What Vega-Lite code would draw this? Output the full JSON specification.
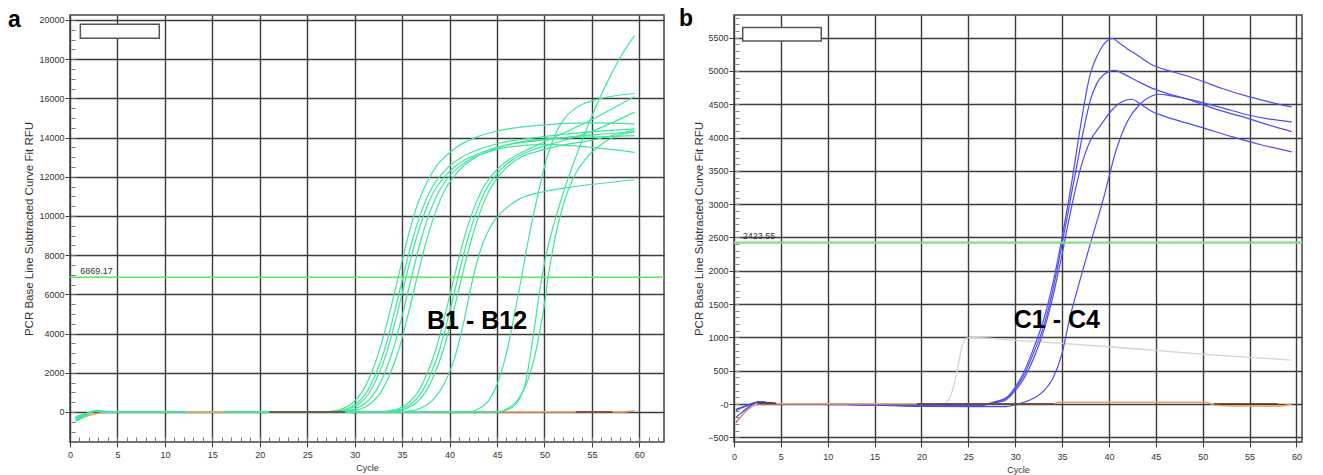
{
"$schema": "https://vega.github.io/schema/vega-lite/v6.json",
"background": "white",
"padding": {"left": 7, "top": 7, "right": 5, "bottom": 0},
"spacing": 12,
"config": {
  "font": "Liberation Sans",
  "view": {"stroke": "#454545", "strokeWidth": 1.5},
  "axis": {"gridColor": "#3c3c3c", "gridWidth": 1.4, "tickColor": "#3c3c3c", "labelColor": "#333333", "titleColor": "#333333", "labelFont": "Liberation Sans", "titleFont": "Liberation Sans", "titleFontWeight": "normal", "domain": false, "labelFlush": false, "labelOverlap": false}
},
"datasets": {
"a": [
{"s":"B1","g":"B","c":0.6,"v":-480},{"s":"B1","g":"B","c":1.5,"v":-240},{"s":"B1","g":"B","c":2.6,"v":40},{"s":"B1","g":"B","c":4,"v":15},{"s":"B1","g":"B","c":12,"v":10},{"s":"B1","g":"B","c":26.7,"v":0},{"s":"B1","g":"B","c":27.7,"v":40},{"s":"B1","g":"B","c":28.7,"v":160},{"s":"B1","g":"B","c":29.7,"v":430},{"s":"B1","g":"B","c":30.7,"v":960},{"s":"B1","g":"B","c":31.7,"v":1900},{"s":"B1","g":"B","c":32.7,"v":3300},{"s":"B1","g":"B","c":33.7,"v":5100},{"s":"B1","g":"B","c":34.7,"v":7100},{"s":"B1","g":"B","c":35.7,"v":9100},{"s":"B1","g":"B","c":36.7,"v":10700},{"s":"B1","g":"B","c":37.7,"v":11800},{"s":"B1","g":"B","c":38.7,"v":12600},{"s":"B1","g":"B","c":39.7,"v":13100},{"s":"B1","g":"B","c":40.7,"v":13500},{"s":"B1","g":"B","c":42.7,"v":14000},{"s":"B1","g":"B","c":44.7,"v":14300},{"s":"B1","g":"B","c":48.7,"v":14600},{"s":"B1","g":"B","c":54.7,"v":14750},{"s":"B1","g":"B","c":59.5,"v":14700},
{"s":"B2","g":"B","c":0.6,"v":-420},{"s":"B2","g":"B","c":1.5,"v":-200},{"s":"B2","g":"B","c":2.6,"v":50},{"s":"B2","g":"B","c":4,"v":20},{"s":"B2","g":"B","c":12,"v":10},{"s":"B2","g":"B","c":27.1,"v":0},{"s":"B2","g":"B","c":28.1,"v":40},{"s":"B2","g":"B","c":29.1,"v":150},{"s":"B2","g":"B","c":30.1,"v":400},{"s":"B2","g":"B","c":31.1,"v":900},{"s":"B2","g":"B","c":32.1,"v":1800},{"s":"B2","g":"B","c":33.1,"v":3100},{"s":"B2","g":"B","c":34.1,"v":4900},{"s":"B2","g":"B","c":35.1,"v":6900},{"s":"B2","g":"B","c":36.1,"v":8800},{"s":"B2","g":"B","c":37.1,"v":10300},{"s":"B2","g":"B","c":38.1,"v":11400},{"s":"B2","g":"B","c":39.1,"v":12100},{"s":"B2","g":"B","c":40.1,"v":12600},{"s":"B2","g":"B","c":41.1,"v":12950},{"s":"B2","g":"B","c":43.1,"v":13400},{"s":"B2","g":"B","c":45.1,"v":13700},{"s":"B2","g":"B","c":49.1,"v":14000},{"s":"B2","g":"B","c":55.1,"v":14300},{"s":"B2","g":"B","c":59.5,"v":14450},
{"s":"B3","g":"B","c":0.6,"v":-380},{"s":"B3","g":"B","c":1.5,"v":-180},{"s":"B3","g":"B","c":2.6,"v":30},{"s":"B3","g":"B","c":4,"v":10},{"s":"B3","g":"B","c":12,"v":5},{"s":"B3","g":"B","c":27.4,"v":0},{"s":"B3","g":"B","c":28.4,"v":40},{"s":"B3","g":"B","c":29.4,"v":150},{"s":"B3","g":"B","c":30.4,"v":390},{"s":"B3","g":"B","c":31.4,"v":880},{"s":"B3","g":"B","c":32.4,"v":1780},{"s":"B3","g":"B","c":33.4,"v":3070},{"s":"B3","g":"B","c":34.4,"v":4850},{"s":"B3","g":"B","c":35.4,"v":6850},{"s":"B3","g":"B","c":36.4,"v":8700},{"s":"B3","g":"B","c":37.4,"v":10200},{"s":"B3","g":"B","c":38.4,"v":11300},{"s":"B3","g":"B","c":39.4,"v":11950},{"s":"B3","g":"B","c":40.4,"v":12450},{"s":"B3","g":"B","c":41.4,"v":12800},{"s":"B3","g":"B","c":43.4,"v":13250},{"s":"B3","g":"B","c":45.4,"v":13550},{"s":"B3","g":"B","c":49.4,"v":13850},{"s":"B3","g":"B","c":55.4,"v":14150},{"s":"B3","g":"B","c":59.5,"v":14300},
{"s":"B4","g":"B","c":0.6,"v":-340},{"s":"B4","g":"B","c":1.5,"v":-160},{"s":"B4","g":"B","c":2.6,"v":40},{"s":"B4","g":"B","c":4,"v":15},{"s":"B4","g":"B","c":12,"v":10},{"s":"B4","g":"B","c":28,"v":0},{"s":"B4","g":"B","c":29,"v":40},{"s":"B4","g":"B","c":30,"v":150},{"s":"B4","g":"B","c":31,"v":400},{"s":"B4","g":"B","c":32,"v":900},{"s":"B4","g":"B","c":33,"v":1800},{"s":"B4","g":"B","c":34,"v":3100},{"s":"B4","g":"B","c":35,"v":4900},{"s":"B4","g":"B","c":36,"v":6900},{"s":"B4","g":"B","c":37,"v":8800},{"s":"B4","g":"B","c":38,"v":10300},{"s":"B4","g":"B","c":39,"v":11350},{"s":"B4","g":"B","c":40,"v":12050},{"s":"B4","g":"B","c":41,"v":12500},{"s":"B4","g":"B","c":42,"v":12850},{"s":"B4","g":"B","c":44,"v":13250},{"s":"B4","g":"B","c":46,"v":13500},{"s":"B4","g":"B","c":50,"v":13650},{"s":"B4","g":"B","c":56,"v":13450},{"s":"B4","g":"B","c":59.5,"v":13250},
{"s":"B5","g":"B","c":0.6,"v":-300},{"s":"B5","g":"B","c":1.5,"v":-140},{"s":"B5","g":"B","c":2.6,"v":50},{"s":"B5","g":"B","c":4,"v":20},{"s":"B5","g":"B","c":12,"v":10},{"s":"B5","g":"B","c":28.6,"v":0},{"s":"B5","g":"B","c":29.6,"v":40},{"s":"B5","g":"B","c":30.6,"v":150},{"s":"B5","g":"B","c":31.6,"v":400},{"s":"B5","g":"B","c":32.6,"v":900},{"s":"B5","g":"B","c":33.6,"v":1800},{"s":"B5","g":"B","c":34.6,"v":3100},{"s":"B5","g":"B","c":35.6,"v":4900},{"s":"B5","g":"B","c":36.6,"v":6900},{"s":"B5","g":"B","c":37.6,"v":8800},{"s":"B5","g":"B","c":38.6,"v":10300},{"s":"B5","g":"B","c":39.6,"v":11400},{"s":"B5","g":"B","c":40.6,"v":12100},{"s":"B5","g":"B","c":41.6,"v":12600},{"s":"B5","g":"B","c":42.6,"v":12950},{"s":"B5","g":"B","c":44.6,"v":13400},{"s":"B5","g":"B","c":46.6,"v":13700},{"s":"B5","g":"B","c":50.6,"v":13950},{"s":"B5","g":"B","c":56.6,"v":14050},{"s":"B5","g":"B","c":59.5,"v":14100},
{"s":"B6","g":"B","c":0.6,"v":-450},{"s":"B6","g":"B","c":1.5,"v":-220},{"s":"B6","g":"B","c":2.6,"v":40},{"s":"B6","g":"B","c":4,"v":15},{"s":"B6","g":"B","c":12,"v":10},{"s":"B6","g":"B","c":32.5,"v":0},{"s":"B6","g":"B","c":33.5,"v":40},{"s":"B6","g":"B","c":34.5,"v":150},{"s":"B6","g":"B","c":35.5,"v":400},{"s":"B6","g":"B","c":36.5,"v":900},{"s":"B6","g":"B","c":37.5,"v":1800},{"s":"B6","g":"B","c":38.5,"v":3100},{"s":"B6","g":"B","c":39.5,"v":4900},{"s":"B6","g":"B","c":40.5,"v":6900},{"s":"B6","g":"B","c":41.5,"v":8800},{"s":"B6","g":"B","c":42.5,"v":10300},{"s":"B6","g":"B","c":43.5,"v":11400},{"s":"B6","g":"B","c":44.5,"v":12100},{"s":"B6","g":"B","c":45.5,"v":12600},{"s":"B6","g":"B","c":46.5,"v":12950},{"s":"B6","g":"B","c":48.5,"v":13450},{"s":"B6","g":"B","c":50.5,"v":13900},{"s":"B6","g":"B","c":54.5,"v":14800},{"s":"B6","g":"B","c":59.5,"v":16100},
{"s":"B7","g":"B","c":0.6,"v":-400},{"s":"B7","g":"B","c":1.5,"v":-190},{"s":"B7","g":"B","c":2.6,"v":30},{"s":"B7","g":"B","c":4,"v":10},{"s":"B7","g":"B","c":12,"v":5},{"s":"B7","g":"B","c":32.9,"v":0},{"s":"B7","g":"B","c":33.9,"v":40},{"s":"B7","g":"B","c":34.9,"v":150},{"s":"B7","g":"B","c":35.9,"v":400},{"s":"B7","g":"B","c":36.9,"v":900},{"s":"B7","g":"B","c":37.9,"v":1800},{"s":"B7","g":"B","c":38.9,"v":3100},{"s":"B7","g":"B","c":39.9,"v":4900},{"s":"B7","g":"B","c":40.9,"v":6900},{"s":"B7","g":"B","c":41.9,"v":8800},{"s":"B7","g":"B","c":42.9,"v":10300},{"s":"B7","g":"B","c":43.9,"v":11400},{"s":"B7","g":"B","c":44.9,"v":12100},{"s":"B7","g":"B","c":45.9,"v":12600},{"s":"B7","g":"B","c":46.9,"v":12950},{"s":"B7","g":"B","c":48.9,"v":13400},{"s":"B7","g":"B","c":50.9,"v":13700},{"s":"B7","g":"B","c":54.9,"v":14300},{"s":"B7","g":"B","c":59.5,"v":15300},
{"s":"B8","g":"B","c":0.6,"v":-360},{"s":"B8","g":"B","c":1.5,"v":-170},{"s":"B8","g":"B","c":2.6,"v":40},{"s":"B8","g":"B","c":4,"v":15},{"s":"B8","g":"B","c":12,"v":10},{"s":"B8","g":"B","c":33.3,"v":0},{"s":"B8","g":"B","c":34.3,"v":40},{"s":"B8","g":"B","c":35.3,"v":150},{"s":"B8","g":"B","c":36.3,"v":400},{"s":"B8","g":"B","c":37.3,"v":900},{"s":"B8","g":"B","c":38.3,"v":1800},{"s":"B8","g":"B","c":39.3,"v":3100},{"s":"B8","g":"B","c":40.3,"v":4900},{"s":"B8","g":"B","c":41.3,"v":6900},{"s":"B8","g":"B","c":42.3,"v":8800},{"s":"B8","g":"B","c":43.3,"v":10300},{"s":"B8","g":"B","c":44.3,"v":11400},{"s":"B8","g":"B","c":45.3,"v":12100},{"s":"B8","g":"B","c":46.3,"v":12600},{"s":"B8","g":"B","c":47.3,"v":12950},{"s":"B8","g":"B","c":49.3,"v":13300},{"s":"B8","g":"B","c":51.3,"v":13550},{"s":"B8","g":"B","c":55.3,"v":13900},{"s":"B8","g":"B","c":59.5,"v":14400},
{"s":"B9","g":"B","c":0.6,"v":-320},{"s":"B9","g":"B","c":1.5,"v":-150},{"s":"B9","g":"B","c":2.6,"v":50},{"s":"B9","g":"B","c":4,"v":20},{"s":"B9","g":"B","c":12,"v":10},{"s":"B9","g":"B","c":34.5,"v":0},{"s":"B9","g":"B","c":35.5,"v":30},{"s":"B9","g":"B","c":36.5,"v":120},{"s":"B9","g":"B","c":37.5,"v":330},{"s":"B9","g":"B","c":38.5,"v":750},{"s":"B9","g":"B","c":39.5,"v":1500},{"s":"B9","g":"B","c":40.5,"v":2700},{"s":"B9","g":"B","c":41.5,"v":4600},{"s":"B9","g":"B","c":42.5,"v":6900},{"s":"B9","g":"B","c":43.5,"v":8600},{"s":"B9","g":"B","c":44.5,"v":9600},{"s":"B9","g":"B","c":45.5,"v":10200},{"s":"B9","g":"B","c":46.5,"v":10600},{"s":"B9","g":"B","c":47.5,"v":10900},{"s":"B9","g":"B","c":49.5,"v":11200},{"s":"B9","g":"B","c":52.5,"v":11450},{"s":"B9","g":"B","c":59.5,"v":11850},
{"s":"B10","g":"B","c":0.6,"v":-280},{"s":"B10","g":"B","c":1.5,"v":-130},{"s":"B10","g":"B","c":2.6,"v":40},{"s":"B10","g":"B","c":4,"v":15},{"s":"B10","g":"B","c":12,"v":10},{"s":"B10","g":"B","c":45,"v":0},{"s":"B10","g":"B","c":46,"v":100},{"s":"B10","g":"B","c":47,"v":400},{"s":"B10","g":"B","c":48,"v":1500},{"s":"B10","g":"B","c":49,"v":4500},{"s":"B10","g":"B","c":49.5,"v":6200},{"s":"B10","g":"B","c":50,"v":7600},{"s":"B10","g":"B","c":51,"v":9600},{"s":"B10","g":"B","c":52,"v":11200},{"s":"B10","g":"B","c":53,"v":12600},{"s":"B10","g":"B","c":54,"v":13900},{"s":"B10","g":"B","c":55,"v":15100},{"s":"B10","g":"B","c":56,"v":16200},{"s":"B10","g":"B","c":57,"v":17200},{"s":"B10","g":"B","c":58,"v":18100},{"s":"B10","g":"B","c":59.5,"v":19200},
{"s":"B11","g":"B","c":0.6,"v":-250},{"s":"B11","g":"B","c":1.5,"v":-120},{"s":"B11","g":"B","c":2.6,"v":30},{"s":"B11","g":"B","c":4,"v":10},{"s":"B11","g":"B","c":12,"v":5},{"s":"B11","g":"B","c":42,"v":0},{"s":"B11","g":"B","c":43,"v":150},{"s":"B11","g":"B","c":44,"v":500},{"s":"B11","g":"B","c":45,"v":1400},{"s":"B11","g":"B","c":46,"v":3000},{"s":"B11","g":"B","c":47,"v":5400},{"s":"B11","g":"B","c":47.6,"v":6900},{"s":"B11","g":"B","c":48,"v":8000},{"s":"B11","g":"B","c":49,"v":10400},{"s":"B11","g":"B","c":50,"v":12500},{"s":"B11","g":"B","c":51,"v":14000},{"s":"B11","g":"B","c":52,"v":14900},{"s":"B11","g":"B","c":53,"v":15400},{"s":"B11","g":"B","c":54,"v":15700},{"s":"B11","g":"B","c":56,"v":16000},{"s":"B11","g":"B","c":59.5,"v":16250},
{"s":"B12","g":"B","c":0.6,"v":-230},{"s":"B12","g":"B","c":1.5,"v":-110},{"s":"B12","g":"B","c":2.6,"v":40},{"s":"B12","g":"B","c":4,"v":15},{"s":"B12","g":"B","c":12,"v":10},{"s":"B12","g":"B","c":45,"v":0},{"s":"B12","g":"B","c":46,"v":150},{"s":"B12","g":"B","c":47,"v":500},{"s":"B12","g":"B","c":48,"v":1300},{"s":"B12","g":"B","c":49,"v":2900},{"s":"B12","g":"B","c":50,"v":5500},{"s":"B12","g":"B","c":50.4,"v":6900},{"s":"B12","g":"B","c":51,"v":8600},{"s":"B12","g":"B","c":52,"v":10600},{"s":"B12","g":"B","c":53,"v":11900},{"s":"B12","g":"B","c":54,"v":12700},{"s":"B12","g":"B","c":55,"v":13250},{"s":"B12","g":"B","c":56,"v":13650},{"s":"B12","g":"B","c":57,"v":13950},{"s":"B12","g":"B","c":59.5,"v":14300},
{"s":"N1","g":"O","c":0.6,"v":-380},{"s":"N1","g":"O","c":1.5,"v":-250},{"s":"N1","g":"O","c":2.5,"v":-120},{"s":"N1","g":"O","c":3.5,"v":-30},{"s":"N1","g":"O","c":4.5,"v":0},{"s":"N1","g":"O","c":58,"v":0},{"s":"N1","g":"O","c":59.5,"v":80},
{"s":"N2","g":"T","c":12.2,"v":0},{"s":"N2","g":"T","c":16.2,"v":0},
{"s":"N3","g":"D","c":21,"v":0},{"s":"N3","g":"D","c":29,"v":0},
{"s":"N4","g":"D","c":53.3,"v":0},{"s":"N4","g":"D","c":57.2,"v":0}
],
"b": [
{"s":"C1","g":"C","c":0.2,"v":-280},{"s":"C1","g":"C","c":0.8,"v":-180},{"s":"C1","g":"C","c":1.5,"v":-70},{"s":"C1","g":"C","c":2.2,"v":15},{"s":"C1","g":"C","c":2.9,"v":35},{"s":"C1","g":"C","c":3.7,"v":20},{"s":"C1","g":"C","c":5,"v":0},{"s":"C1","g":"C","c":12,"v":-5},{"s":"C1","g":"C","c":20,"v":-25},{"s":"C1","g":"C","c":26,"v":-25},{"s":"C1","g":"C","c":27,"v":0},{"s":"C1","g":"C","c":28,"v":40},{"s":"C1","g":"C","c":29,"v":90},{"s":"C1","g":"C","c":30,"v":250},{"s":"C1","g":"C","c":31,"v":500},{"s":"C1","g":"C","c":32,"v":850},{"s":"C1","g":"C","c":33,"v":1250},{"s":"C1","g":"C","c":34,"v":1800},{"s":"C1","g":"C","c":35,"v":2500},{"s":"C1","g":"C","c":36,"v":3300},{"s":"C1","g":"C","c":37,"v":4200},{"s":"C1","g":"C","c":38,"v":4950},{"s":"C1","g":"C","c":38.5,"v":5150},{"s":"C1","g":"C","c":39,"v":5300},{"s":"C1","g":"C","c":39.7,"v":5440},{"s":"C1","g":"C","c":40.4,"v":5490},{"s":"C1","g":"C","c":41,"v":5430},{"s":"C1","g":"C","c":42,"v":5330},{"s":"C1","g":"C","c":43,"v":5240},{"s":"C1","g":"C","c":44.7,"v":5085},{"s":"C1","g":"C","c":46,"v":5020},{"s":"C1","g":"C","c":48,"v":4940},{"s":"C1","g":"C","c":49.7,"v":4860},{"s":"C1","g":"C","c":52,"v":4740},{"s":"C1","g":"C","c":55,"v":4610},{"s":"C1","g":"C","c":57,"v":4540},{"s":"C1","g":"C","c":59.5,"v":4460},
{"s":"C2","g":"C","c":0.2,"v":-100},{"s":"C2","g":"C","c":0.8,"v":-60},{"s":"C2","g":"C","c":1.5,"v":-20},{"s":"C2","g":"C","c":2.2,"v":20},{"s":"C2","g":"C","c":2.9,"v":35},{"s":"C2","g":"C","c":3.7,"v":20},{"s":"C2","g":"C","c":5,"v":0},{"s":"C2","g":"C","c":12,"v":-5},{"s":"C2","g":"C","c":20,"v":-25},{"s":"C2","g":"C","c":26,"v":-25},{"s":"C2","g":"C","c":27,"v":0},{"s":"C2","g":"C","c":28,"v":30},{"s":"C2","g":"C","c":29,"v":80},{"s":"C2","g":"C","c":30,"v":230},{"s":"C2","g":"C","c":31,"v":450},{"s":"C2","g":"C","c":32,"v":780},{"s":"C2","g":"C","c":33,"v":1150},{"s":"C2","g":"C","c":34,"v":1700},{"s":"C2","g":"C","c":35,"v":2400},{"s":"C2","g":"C","c":36,"v":3150},{"s":"C2","g":"C","c":37,"v":3900},{"s":"C2","g":"C","c":37.5,"v":4250},{"s":"C2","g":"C","c":38,"v":4550},{"s":"C2","g":"C","c":38.7,"v":4810},{"s":"C2","g":"C","c":39.5,"v":4950},{"s":"C2","g":"C","c":40.6,"v":5010},{"s":"C2","g":"C","c":41.5,"v":4960},{"s":"C2","g":"C","c":43,"v":4850},{"s":"C2","g":"C","c":44.7,"v":4735},{"s":"C2","g":"C","c":47,"v":4630},{"s":"C2","g":"C","c":49.7,"v":4535},{"s":"C2","g":"C","c":52,"v":4450},{"s":"C2","g":"C","c":55,"v":4335},{"s":"C2","g":"C","c":57,"v":4280},{"s":"C2","g":"C","c":59.5,"v":4235},
{"s":"C3","g":"C","c":0.2,"v":-200},{"s":"C3","g":"C","c":0.8,"v":-130},{"s":"C3","g":"C","c":1.5,"v":-50},{"s":"C3","g":"C","c":2.2,"v":10},{"s":"C3","g":"C","c":2.9,"v":30},{"s":"C3","g":"C","c":3.7,"v":15},{"s":"C3","g":"C","c":5,"v":0},{"s":"C3","g":"C","c":12,"v":-5},{"s":"C3","g":"C","c":20,"v":-30},{"s":"C3","g":"C","c":26,"v":-30},{"s":"C3","g":"C","c":27,"v":-5},{"s":"C3","g":"C","c":28,"v":20},{"s":"C3","g":"C","c":29,"v":60},{"s":"C3","g":"C","c":30,"v":200},{"s":"C3","g":"C","c":31,"v":400},{"s":"C3","g":"C","c":32,"v":700},{"s":"C3","g":"C","c":33,"v":1080},{"s":"C3","g":"C","c":34,"v":1600},{"s":"C3","g":"C","c":35,"v":2250},{"s":"C3","g":"C","c":36,"v":2950},{"s":"C3","g":"C","c":37,"v":3550},{"s":"C3","g":"C","c":38,"v":3950},{"s":"C3","g":"C","c":39,"v":4160},{"s":"C3","g":"C","c":40.4,"v":4425},{"s":"C3","g":"C","c":41.3,"v":4530},{"s":"C3","g":"C","c":42.4,"v":4575},{"s":"C3","g":"C","c":43.5,"v":4490},{"s":"C3","g":"C","c":44.5,"v":4400},{"s":"C3","g":"C","c":45.8,"v":4325},{"s":"C3","g":"C","c":47.5,"v":4250},{"s":"C3","g":"C","c":49.7,"v":4160},{"s":"C3","g":"C","c":53.2,"v":4010},{"s":"C3","g":"C","c":56,"v":3900},{"s":"C3","g":"C","c":59.5,"v":3785},
{"s":"C4","g":"C","c":0.2,"v":-80},{"s":"C4","g":"C","c":0.8,"v":-50},{"s":"C4","g":"C","c":1.5,"v":-15},{"s":"C4","g":"C","c":2.2,"v":20},{"s":"C4","g":"C","c":2.9,"v":30},{"s":"C4","g":"C","c":3.7,"v":15},{"s":"C4","g":"C","c":5,"v":0},{"s":"C4","g":"C","c":12,"v":-10},{"s":"C4","g":"C","c":20,"v":-35},{"s":"C4","g":"C","c":29,"v":-40},{"s":"C4","g":"C","c":30,"v":-15},{"s":"C4","g":"C","c":31,"v":30},{"s":"C4","g":"C","c":32,"v":90},{"s":"C4","g":"C","c":33,"v":190},{"s":"C4","g":"C","c":34,"v":380},{"s":"C4","g":"C","c":35,"v":760},{"s":"C4","g":"C","c":35.8,"v":1275},{"s":"C4","g":"C","c":37,"v":1900},{"s":"C4","g":"C","c":38,"v":2400},{"s":"C4","g":"C","c":39.4,"v":3075},{"s":"C4","g":"C","c":40.8,"v":3825},{"s":"C4","g":"C","c":42,"v":4250},{"s":"C4","g":"C","c":43.3,"v":4500},{"s":"C4","g":"C","c":44.5,"v":4620},{"s":"C4","g":"C","c":45.4,"v":4650},{"s":"C4","g":"C","c":46.5,"v":4630},{"s":"C4","g":"C","c":48,"v":4590},{"s":"C4","g":"C","c":49.7,"v":4510},{"s":"C4","g":"C","c":52,"v":4400},{"s":"C4","g":"C","c":55,"v":4280},{"s":"C4","g":"C","c":57,"v":4190},{"s":"C4","g":"C","c":59.5,"v":4090},
{"s":"G1","g":"G","c":21,"v":0},{"s":"G1","g":"G","c":22,"v":-20},{"s":"G1","g":"G","c":22.8,"v":50},{"s":"G1","g":"G","c":23.3,"v":200},{"s":"G1","g":"G","c":23.8,"v":500},{"s":"G1","g":"G","c":24.3,"v":850},{"s":"G1","g":"G","c":24.8,"v":990},{"s":"G1","g":"G","c":25.5,"v":1000},{"s":"G1","g":"G","c":30,"v":955},{"s":"G1","g":"G","c":35,"v":910},{"s":"G1","g":"G","c":40,"v":860},{"s":"G1","g":"G","c":45,"v":805},{"s":"G1","g":"G","c":50,"v":750},{"s":"G1","g":"G","c":55,"v":700},{"s":"G1","g":"G","c":59.5,"v":660},
{"s":"N1","g":"O","c":0.3,"v":-250},{"s":"N1","g":"O","c":1,"v":-150},{"s":"N1","g":"O","c":1.8,"v":-50},{"s":"N1","g":"O","c":2.5,"v":0},{"s":"N1","g":"O","c":4,"v":5},{"s":"N1","g":"O","c":34,"v":0},{"s":"N1","g":"O","c":34.6,"v":25},{"s":"N1","g":"O","c":50.3,"v":25},{"s":"N1","g":"O","c":51,"v":0},{"s":"N1","g":"O","c":53,"v":-30},{"s":"N1","g":"O","c":58,"v":-35},{"s":"N1","g":"O","c":59.5,"v":0},
{"s":"N2","g":"D","c":2.5,"v":15},{"s":"N2","g":"D","c":4.5,"v":10},
{"s":"N3","g":"D","c":19.5,"v":0},{"s":"N3","g":"D","c":34.2,"v":0},
{"s":"N4","g":"D","c":51.2,"v":0},{"s":"N4","g":"D","c":58,"v":0}
]
},
"hconcat": [
{
 "width": 594, "height": 427,
 "resolve": {"axis": {"x": "independent", "y": "independent"}},
 "layer": [
  {
   "data": {"name": "a"},
   "transform": [{"filter": "datum.g == 'O'"}],
   "mark": {"type": "line", "color": "#f2a25e", "strokeWidth": 1.5, "interpolate": "monotone"},
   "encoding": {
     "x": {"field": "c", "type": "quantitative", "scale": {"domain": [0, 62.6], "nice": false, "zero": false},
           "axis": {"orient": "bottom", "values": [1,2,3,4,5,6,7,8,9,10,11,12,13,14,15,16,17,18,19,20,21,22,23,24,25,26,27,28,29,30,31,32,33,34,35,36,37,38,39,40,41,42,43,44,45,46,47,48,49,50,51,52,53,54,55,56,57,58,59,60,61,62], "grid": false, "labels": false, "tickSize": 5, "offset": -5, "title": null, "tickColor": "#777777", "tickWidth": 1}},
     "y": {"field": "v", "type": "quantitative", "scale": {"domain": [-1531, 20255], "nice": false, "zero": false},
           "axis": {"orient": "left", "values": [-1500,-1000,-500,0,500,1000,1500,2000,2500,3000,3500,4000,4500,5000,5500,6000,6500,7000,7500,8000,8500,9000,9500,10000,10500,11000,11500,12000,12500,13000,13500,14000,14500,15000,15500,16000,16500,17000,17500,18000,18500,19000,19500,20000], "grid": false, "labels": false, "tickSize": 4, "offset": -5, "title": null, "tickColor": "#777777", "tickWidth": 1}},
     "detail": {"field": "s"}
   }
  },
  {
   "data": {"name": "a"},
   "transform": [{"filter": "datum.g == 'B'"}],
   "mark": {"type": "line", "color": "#3fe69a", "strokeWidth": 1.2, "interpolate": "monotone"},
   "encoding": {
     "x": {"field": "c", "type": "quantitative", "scale": {"domain": [0, 62.6], "nice": false, "zero": false},
           "axis": {"orient": "bottom", "values": [0,5,10,15,20,25,30,35,40,45,50,55,60], "grid": true, "tickSize": 5, "labelPadding": 3, "labelFontSize": 9, "title": "Cycle", "titleFontSize": 9, "titlePadding": 4}},
     "y": {"field": "v", "type": "quantitative", "scale": {"domain": [-1531, 20255], "nice": false, "zero": false},
           "axis": {"orient": "left", "values": [0,2000,4000,6000,8000,10000,12000,14000,16000,18000,20000], "grid": true, "tickSize": 5, "labelPadding": 1, "labelFontSize": 9, "format": "d", "title": "PCR Base Line Subtracted Curve Fit RFU", "titleFontSize": 11.5, "titlePadding": 4}},
     "detail": {"field": "s"}
   }
  },
  {
   "data": {"name": "a"},
   "transform": [{"filter": "datum.g == 'T'"}],
   "mark": {"type": "line", "color": "#f2a25e", "strokeWidth": 1.5},
   "encoding": {
     "x": {"field": "c", "type": "quantitative", "scale": {"domain": [0, 62.6], "nice": false, "zero": false}, "axis": null},
     "y": {"field": "v", "type": "quantitative", "scale": {"domain": [-1531, 20255], "nice": false, "zero": false}, "axis": null},
     "detail": {"field": "s"}
   }
  },
  {
   "data": {"name": "a"},
   "transform": [{"filter": "datum.g == 'D'"}],
   "mark": {"type": "line", "color": "#6b3d24", "strokeWidth": 1.5},
   "encoding": {
     "x": {"field": "c", "type": "quantitative", "scale": {"domain": [0, 62.6], "nice": false, "zero": false}, "axis": null},
     "y": {"field": "v", "type": "quantitative", "scale": {"domain": [-1531, 20255], "nice": false, "zero": false}, "axis": null},
     "detail": {"field": "s"}
   }
  },
  {
   "data": {"values": [{"t": 6869.17}]},
   "mark": {"type": "rule", "color": "#5fe65f", "strokeWidth": 1.5},
   "encoding": {
     "y": {"field": "t", "type": "quantitative", "scale": {"domain": [-1531, 20255], "nice": false, "zero": false}, "axis": null}
   }
  },
  {
   "data": {"values": [{}]},
   "mark": {"type": "rect", "fill": "white", "stroke": "#555555", "strokeWidth": 1.5},
   "encoding": {
     "x": {"datum": 1.09, "type": "quantitative", "scale": {"domain": [0, 62.6], "nice": false, "zero": false}, "axis": null},
     "x2": {"datum": 9.41},
     "y": {"datum": 19066, "type": "quantitative", "scale": {"domain": [-1531, 20255], "nice": false, "zero": false}, "axis": null},
     "y2": {"datum": 19780}
   }
  },
  {
   "data": {"values": [{}]},
   "mark": {"type": "text", "text": "6869.17", "fontSize": 9, "align": "left", "baseline": "alphabetic", "color": "#333333"},
   "encoding": {
     "x": {"datum": 1.09, "type": "quantitative", "scale": {"domain": [0, 62.6], "nice": false, "zero": false}, "axis": null},
     "y": {"datum": 7066, "type": "quantitative", "scale": {"domain": [-1531, 20255], "nice": false, "zero": false}, "axis": null}
   }
  },
  {
   "data": {"values": [{}]},
   "mark": {"type": "text", "text": "B1 - B12", "fontSize": 25, "fontWeight": "bold", "align": "center", "baseline": "alphabetic", "color": "black"},
   "encoding": {
     "x": {"datum": 42.9, "type": "quantitative", "scale": {"domain": [0, 62.6], "nice": false, "zero": false}, "axis": null},
     "y": {"datum": 4255, "type": "quantitative", "scale": {"domain": [-1531, 20255], "nice": false, "zero": false}, "axis": null}
   }
  },
  {
   "data": {"values": [{}]},
   "mark": {"type": "text", "text": "a", "fontSize": 23, "fontWeight": "bold", "align": "left", "baseline": "alphabetic", "color": "black"},
   "encoding": {
     "x": {"datum": -6.53, "type": "quantitative", "scale": {"domain": [0, 62.6], "nice": false, "zero": false}, "axis": null},
     "y": {"datum": 19660, "type": "quantitative", "scale": {"domain": [-1531, 20255], "nice": false, "zero": false}, "axis": null}
   }
  }
 ]
},
{
 "width": 568, "height": 427,
 "resolve": {"axis": {"x": "independent", "y": "independent"}},
 "layer": [
  {
   "data": {"name": "b"},
   "transform": [{"filter": "datum.g == 'G'"}],
   "mark": {"type": "line", "color": "#d4d4d4", "strokeWidth": 1.3, "interpolate": "monotone"},
   "encoding": {
     "x": {"field": "c", "type": "quantitative", "scale": {"domain": [0, 60.6], "nice": false, "zero": false}, "axis": null},
     "y": {"field": "v", "type": "quantitative", "scale": {"domain": [-570, 5840], "nice": false, "zero": false},
           "axis": {"orient": "left", "values": [-500,-400,-300,-200,-100,0,100,200,300,400,500,600,700,800,900,1000,1100,1200,1300,1400,1500,1600,1700,1800,1900,2000,2100,2200,2300,2400,2500,2600,2700,2800,2900,3000,3100,3200,3300,3400,3500,3600,3700,3800,3900,4000,4100,4200,4300,4400,4500,4600,4700,4800,4900,5000,5100,5200,5300,5400,5500,5600,5700,5800], "grid": false, "labels": false, "tickSize": 4, "offset": -5, "title": null, "tickColor": "#888888", "tickWidth": 1}},
     "detail": {"field": "s"}
   }
  },
  {
   "data": {"name": "b"},
   "transform": [{"filter": "datum.g == 'C'"}],
   "mark": {"type": "line", "color": "#4d4df0", "strokeWidth": 1.2, "interpolate": "monotone"},
   "encoding": {
     "x": {"field": "c", "type": "quantitative", "scale": {"domain": [0, 60.6], "nice": false, "zero": false},
           "axis": {"orient": "bottom", "values": [0,5,10,15,20,25,30,35,40,45,50,55,60], "grid": true, "tickSize": 5, "labelPadding": 5, "labelFontSize": 9, "title": "Cycle", "titleFontSize": 9, "titlePadding": 4}},
     "y": {"field": "v", "type": "quantitative", "scale": {"domain": [-570, 5840], "nice": false, "zero": false},
           "axis": {"orient": "left", "values": [-500,0,500,1000,1500,2000,2500,3000,3500,4000,4500,5000,5500], "grid": true, "tickSize": 5, "labelPadding": 1, "labelFontSize": 9, "format": "d", "labelExpr": "datum.value == 0 ? '-0' : datum.label", "title": "PCR Base Line Subtracted Curve Fit RFU", "titleFontSize": 11.5, "titlePadding": 3}},
     "detail": {"field": "s"}
   }
  },
  {
   "data": {"name": "b"},
   "transform": [{"filter": "datum.g == 'O'"}],
   "mark": {"type": "line", "color": "#f2a25e", "strokeWidth": 1.5, "interpolate": "monotone"},
   "encoding": {
     "x": {"field": "c", "type": "quantitative", "scale": {"domain": [0, 60.6], "nice": false, "zero": false}, "axis": null},
     "y": {"field": "v", "type": "quantitative", "scale": {"domain": [-570, 5840], "nice": false, "zero": false}, "axis": null},
     "detail": {"field": "s"}
   }
  },
  {
   "data": {"name": "b"},
   "transform": [{"filter": "datum.g == 'D'"}],
   "mark": {"type": "line", "color": "#5a3322", "strokeWidth": 1.5},
   "encoding": {
     "x": {"field": "c", "type": "quantitative", "scale": {"domain": [0, 60.6], "nice": false, "zero": false}, "axis": null},
     "y": {"field": "v", "type": "quantitative", "scale": {"domain": [-570, 5840], "nice": false, "zero": false}, "axis": null},
     "detail": {"field": "s"}
   }
  },
  {
   "data": {"values": [{"t": 2423.55}]},
   "mark": {"type": "rule", "color": "#7fe07f", "strokeWidth": 2.2},
   "encoding": {
     "y": {"field": "t", "type": "quantitative", "scale": {"domain": [-570, 5840], "nice": false, "zero": false}, "axis": null}
   }
  },
  {
   "data": {"values": [{}]},
   "mark": {"type": "rect", "fill": "white", "stroke": "#555555", "strokeWidth": 1.5},
   "encoding": {
     "x": {"datum": 0.93, "type": "quantitative", "scale": {"domain": [0, 60.6], "nice": false, "zero": false}, "axis": null},
     "x2": {"datum": 9.31},
     "y": {"datum": 5450, "type": "quantitative", "scale": {"domain": [-570, 5840], "nice": false, "zero": false}, "axis": null},
     "y2": {"datum": 5651}
   }
  },
  {
   "data": {"values": [{}]},
   "mark": {"type": "text", "text": "2423.55", "fontSize": 9, "align": "left", "baseline": "alphabetic", "color": "#333333"},
   "encoding": {
     "x": {"datum": 0.93, "type": "quantitative", "scale": {"domain": [0, 60.6], "nice": false, "zero": false}, "axis": null},
     "y": {"datum": 2475, "type": "quantitative", "scale": {"domain": [-570, 5840], "nice": false, "zero": false}, "axis": null}
   }
  },
  {
   "data": {"values": [{}]},
   "mark": {"type": "text", "text": "C1 - C4", "fontSize": 25, "fontWeight": "bold", "align": "center", "baseline": "alphabetic", "color": "black"},
   "encoding": {
     "x": {"datum": 34.44, "type": "quantitative", "scale": {"domain": [0, 60.6], "nice": false, "zero": false}, "axis": null},
     "y": {"datum": 1140, "type": "quantitative", "scale": {"domain": [-570, 5840], "nice": false, "zero": false}, "axis": null}
   }
  },
  {
   "data": {"values": [{}]},
   "mark": {"type": "text", "text": "b", "fontSize": 23, "fontWeight": "bold", "align": "left", "baseline": "alphabetic", "color": "black"},
   "encoding": {
     "x": {"datum": -5.86, "type": "quantitative", "scale": {"domain": [0, 60.6], "nice": false, "zero": false}, "axis": null},
     "y": {"datum": 5670, "type": "quantitative", "scale": {"domain": [-570, 5840], "nice": false, "zero": false}, "axis": null}
   }
  }
 ]
}
]
}
